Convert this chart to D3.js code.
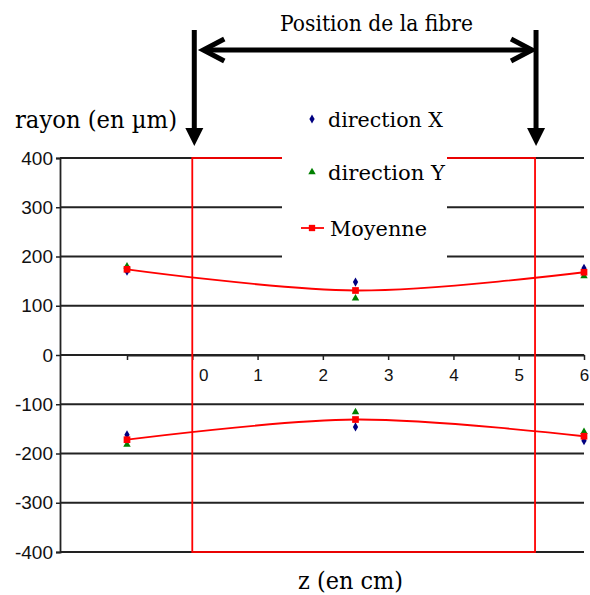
<!DOCTYPE html>
<html>
<head>
<meta charset="utf-8">
<script src="https://cdn.jsdelivr.net/npm/d3@7"></script>
<style>
  body { margin: 0; background: #fff; }
  svg { display: block; }
  .serif { font-family: "DejaVu Serif", "Liberation Serif", serif; }
</style>
</head>
<body>
<svg width="590" height="595"></svg>
<script>
// data
var zPos = [-1, 2.5, 6],
    upperX = [170, 148, 176],
    upperY = [180, 115, 160],
    upperMoy = [174, 131, 168],
    lowerX = [-162, -146, -174],
    lowerY = [-182, -116, -156],
    lowerMoy = [-172, -131, -165],
    yTicks = [400, 300, 200, 100, 0, -100, -200, -300, -400],
    xTicks = [-1, 0, 1, 2, 3, 4, 5, 6],
    xLabels = ["", "0", "1", "2", "3", "4", "5", "6"],
    fibre = [0, 5.25];

var colorX = "#000080",
    colorY = "#008000",
    colorMoy = "#ff0000",
    colorGrid = "#222";

var svg = d3.select("svg");

var x = d3.scaleLinear().domain([-1, 6]).range([127, 584]),
    y = d3.scaleLinear().domain([-400, 400]).range([552, 158]);

var sans = "'Liberation Sans', Arial, sans-serif";

// grid lines
svg.append("g").selectAll("line")
  .data(yTicks)
  .join("line")
    .attr("x1", 60).attr("x2", x(6))
    .attr("y1", d => y(d)).attr("y2", d => y(d))
    .attr("stroke", colorGrid)
    .attr("stroke-width", 1.8);

// y axis
var yAxis = svg.append("g")
    .attr("transform", "translate(60,0)")
    .call(d3.axisLeft(y).tickValues(yTicks).tickSize(4).tickFormat(d3.format("d")));
yAxis.select(".domain").attr("stroke", colorGrid).attr("stroke-width", 1.8);
yAxis.selectAll(".tick line").attr("stroke", colorGrid).attr("stroke-width", 1.5);
yAxis.selectAll(".tick text")
    .attr("x", -7)
    .attr("font-family", sans).attr("font-size", 19).attr("fill", "#111")
    .text(d => d < 0 ? "-" + Math.abs(d) : d);

// x axis
var xAxis = svg.append("g")
    .attr("transform", "translate(0," + y(0) + ")")
    .call(d3.axisBottom(x).tickValues(xTicks).tickSize(5).tickSizeOuter(0)
        .tickFormat((d, i) => xLabels[i]));
xAxis.select(".domain").attr("stroke", colorGrid).attr("stroke-width", 1.8);
xAxis.selectAll(".tick line").attr("stroke", colorGrid).attr("stroke-width", 1.5);
xAxis.selectAll(".tick text")
    .attr("y", 14)
    .attr("dx", d => d === 0 ? 11 : 0)
    .attr("font-family", sans).attr("font-size", 17).attr("fill", "#111");

// fibre rectangle
svg.append("rect")
    .attr("x", x(fibre[0]))
    .attr("y", y(400))
    .attr("width", x(fibre[1]) - x(fibre[0]))
    .attr("height", y(-400) - y(400))
    .attr("fill", "none")
    .attr("stroke", colorMoy)
    .attr("stroke-width", 1.8);

// legend box (covers grid)
var legend = svg.append("g");
legend.append("rect")
    .attr("x", 282).attr("y", 96)
    .attr("width", 165).attr("height", 167)
    .attr("fill", "#fff");

var legendItems = [
  { label: "direction X", type: d3.symbolDiamond, color: colorX, cy: 119, tx: 328, len: 115 },
  { label: "direction Y", type: d3.symbolTriangle, color: colorY, cy: 172, tx: 328, len: 117 },
  { label: "Moyenne", type: d3.symbolSquare, color: colorMoy, cy: 228, tx: 330, len: 97 }
];
legendItems.forEach(function(d, i) {
  if (i === 2) {
    legend.append("line")
        .attr("x1", 301).attr("x2", 324)
        .attr("y1", d.cy).attr("y2", d.cy)
        .attr("stroke", colorMoy).attr("stroke-width", 1.8);
  }
  legend.append("path")
      .attr("d", d3.symbol().type(d.type).size(i === 2 ? 40 : 24)())
      .attr("transform", "translate(312," + d.cy + ")")
      .attr("fill", d.color);
  legend.append("text")
      .attr("class", "serif")
      .attr("x", d.tx).attr("y", d.cy + 8)
      .attr("font-size", 20)
      .attr("textLength", d.len).attr("lengthAdjust", "spacingAndGlyphs")
      .text(d.label);
});

// smoothed mean curves
var line = d3.line()
    .x(d => x(d[0]))
    .y(d => y(d[1]))
    .curve(d3.curveCatmullRom.alpha(0.5));

[upperMoy, lowerMoy].forEach(function(vals) {
  svg.append("path")
      .datum(zPos.map((z, i) => [z, vals[i]]))
      .attr("d", line)
      .attr("fill", "none")
      .attr("stroke", colorMoy)
      .attr("stroke-width", 1.8);
});

// markers
function markers(vals, type, color, size) {
  svg.append("g").selectAll("path")
    .data(zPos.map((z, i) => [z, vals[i]]))
    .join("path")
      .attr("d", d3.symbol().type(type).size(size)())
      .attr("transform", d => "translate(" + x(d[0]) + "," + y(d[1]) + ")")
      .attr("fill", color);
}
markers(upperX, d3.symbolDiamond, colorX, 24);
markers(lowerX, d3.symbolDiamond, colorX, 24);
markers(upperY, d3.symbolTriangle, colorY, 24);
markers(lowerY, d3.symbolTriangle, colorY, 24);
markers(upperMoy, d3.symbolSquare, colorMoy, 45);
markers(lowerMoy, d3.symbolSquare, colorMoy, 45);

// arrows
var arrows = svg.append("g").attr("fill", "#000").attr("stroke", "#000");
fibre.forEach(function(z) {
  var cx = x(z) + (z === 0 ? 2 : 1);
  arrows.append("line")
      .attr("x1", cx).attr("x2", cx)
      .attr("y1", 30).attr("y2", 132)
      .attr("stroke-width", 5);
  arrows.append("path")
      .attr("d", "M" + (cx - 9) + ",128L" + (cx + 9) + ",128L" + cx + ",146Z")
      .attr("stroke", "none");
});

var ax0 = x(fibre[0]) + 11, ax1 = x(fibre[1]) - 3, ay = 50;
arrows.append("line")
    .attr("x1", ax0 + 2).attr("x2", ax1 - 2)
    .attr("y1", ay).attr("y2", ay)
    .attr("stroke-width", 5);
arrows.append("path")
    .attr("d", "M" + (ax0 + 21) + "," + (ay - 11) + "L" + ax0 + "," + ay + "L" + (ax0 + 21) + "," + (ay + 11))
    .attr("fill", "none").attr("stroke-width", 5).attr("stroke-linejoin", "miter");
arrows.append("path")
    .attr("d", "M" + (ax1 - 21) + "," + (ay - 11) + "L" + ax1 + "," + ay + "L" + (ax1 - 21) + "," + (ay + 11))
    .attr("fill", "none").attr("stroke-width", 5).attr("stroke-linejoin", "miter");

// texts
svg.append("text")
    .attr("class", "serif")
    .attr("x", 280).attr("y", 31)
    .attr("font-size", 23)
    .attr("textLength", 193).attr("lengthAdjust", "spacingAndGlyphs")
    .text("Position de la fibre");

svg.append("text")
    .attr("class", "serif")
    .attr("x", 15).attr("y", 128)
    .attr("font-size", 24)
    .attr("textLength", 162).attr("lengthAdjust", "spacingAndGlyphs")
    .text("rayon (en µm)");

svg.append("text")
    .attr("class", "serif")
    .attr("x", 298).attr("y", 589)
    .attr("font-size", 25)
    .attr("textLength", 105).attr("lengthAdjust", "spacingAndGlyphs")
    .text("z (en cm)");
</script>
</body>
</html>
